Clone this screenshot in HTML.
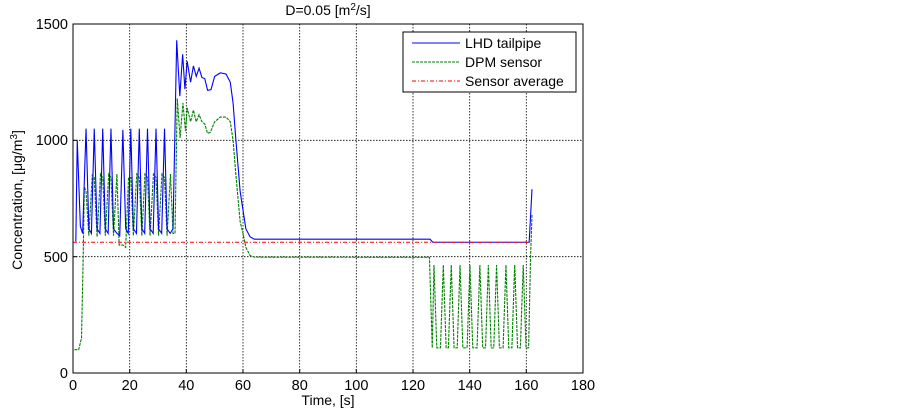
<!DOCTYPE html>
<html><head><meta charset="utf-8"><style>
body{margin:0;background:#fff;width:903px;height:410px;overflow:hidden}
svg{font-family:"Liberation Sans",Arial,sans-serif}
</style></head><body>
<svg width="903" height="410" xmlns="http://www.w3.org/2000/svg">
<rect width="903" height="410" fill="#fff"/>
<g stroke="#000" stroke-width="0.8" stroke-dasharray="1.5,1.5">
<line x1="129.7" y1="24" x2="129.7" y2="373"/>
<line x1="186.3" y1="24" x2="186.3" y2="373"/>
<line x1="243" y1="24" x2="243" y2="373"/>
<line x1="299.7" y1="24" x2="299.7" y2="373"/>
<line x1="356.3" y1="24" x2="356.3" y2="373"/>
<line x1="413" y1="24" x2="413" y2="373"/>
<line x1="469.7" y1="24" x2="469.7" y2="373"/>
<line x1="526.3" y1="24" x2="526.3" y2="373"/>
<line x1="73" y1="140.3" x2="583" y2="140.3"/>
<line x1="73" y1="256.7" x2="583" y2="256.7"/>
</g>
<g transform="translate(73,373) scale(2.8333,-0.23267)" fill="none">
<path vector-effect="non-scaling-stroke" stroke="#008000" stroke-width="1.1" stroke-dasharray="3,1" d="M0.5,100 L2,100 L3,150 L3.6,500 L4,800 L4.6,780 L5.6,590 L6.8,850 L7.5,840 L8.5,585 L9.7,855 L10.5,840 L11.4,590 L12.6,855 L13.4,840 L14.3,590 L15.5,855 L16.3,550 L17.6,550 L18.6,540 L19.6,840 L20.4,840 L21.3,590 L22.5,855 L23.4,840 L24.3,590 L25.4,855 L26.3,840 L27.2,590 L28.4,855 L29.3,840 L30.2,590 L31.4,855 L32.3,840 L33.2,590 L34.4,855 L35.3,600 L36,600 L36.8,1180 L37.8,1010 L38.8,1160 L39.7,1040 L40.3,1140 L41.5,1080 L42.5,1130 L43.5,1080 L44.5,1110 L45.5,1080 L46.5,1070 L47.5,1030 L48.5,1035 L50,1080 L52,1100 L54,1100 L55.5,1080 L56.5,1000 L57.5,850 L59,650 L60,600 L61,540 L62.5,505 L64,498 L125.8,497 L126.8,108 L127.4,464 L128.4,108 L129.7,108 L130.7,464 L131.7,108 L132.5,108 L133.5,464 L134.5,108 L135.6,108 L136.6,464 L137.6,108 L139.1,108 L140.1,464 L141.1,108 L142.6,108 L143.6,464 L144.6,108 L145.6,108 L146.6,464 L147.6,108 L148.5,108 L149.5,464 L150.5,108 L151.8,108 L152.8,464 L153.8,108 L154.9,108 L155.9,464 L156.9,108 L157.9,108 L158.9,464 L159.9,108 L160.8,108 L161.5,500 L162,680"/>
<path vector-effect="non-scaling-stroke" stroke="#0000ff" stroke-width="1.1" d="M1,565 L1.5,1000 L2.6,630 L3.4,600 L4.6,1050 L5.6,620 L6.5,600 L7.5,1050 L8.5,620 L9.5,600 L10.5,1050 L11.4,620 L12.4,600 L13.4,1050 L14.3,620 L15.5,600 L16.5,590 L17.6,1045 L18.6,620 L19.5,600 L20.4,1050 L21.3,620 L22.4,600 L23.4,1050 L24.3,620 L25.3,600 L26.3,1050 L27.2,620 L28.3,600 L29.3,1050 L30.2,620 L31.3,600 L32.3,1050 L33.2,620 L34.3,600 L35.3,620 L36.6,1430 L37.7,1190 L38.7,1370 L39.5,1220 L40.3,1340 L41.5,1250 L42.5,1320 L43.5,1275 L44.5,1310 L45.5,1270 L46.5,1265 L47.5,1215 L48.7,1218 L50,1275 L52,1290 L54,1285 L55.5,1250 L56.5,1160 L57.5,1000 L59,780 L60,700 L61,620 L62.5,585 L64,575 L126,575 L127,562 L161,562 L162,790"/>
<path vector-effect="non-scaling-stroke" stroke="#ff0000" stroke-width="1" stroke-dasharray="4,2,1,2" d="M0,562 L162,562"/>
</g>
<rect x="73" y="24" width="510" height="349" fill="none" stroke="#000" stroke-width="1"/>
<g stroke="#000" stroke-width="1">
<line x1="129.7" y1="373" x2="129.7" y2="369"/><line x1="186.3" y1="373" x2="186.3" y2="369"/><line x1="243" y1="373" x2="243" y2="369"/><line x1="299.7" y1="373" x2="299.7" y2="369"/><line x1="356.3" y1="373" x2="356.3" y2="369"/><line x1="413" y1="373" x2="413" y2="369"/><line x1="469.7" y1="373" x2="469.7" y2="369"/><line x1="526.3" y1="373" x2="526.3" y2="369"/>
<line x1="73" y1="140.3" x2="77" y2="140.3"/><line x1="73" y1="256.7" x2="77" y2="256.7"/>
</g>
<g font-size="14.5" fill="#000" text-anchor="middle">
<text x="73" y="390">0</text><text x="129.7" y="390">20</text><text x="186.3" y="390">40</text><text x="243" y="390">60</text><text x="299.7" y="390">80</text><text x="356.3" y="390">100</text><text x="413" y="390">120</text><text x="469.7" y="390">140</text><text x="526.3" y="390">160</text><text x="583" y="390">180</text>
</g>
<g font-size="14.5" fill="#000" text-anchor="end">
<text x="68" y="29">1500</text><text x="68" y="145">1000</text><text x="68" y="262">500</text><text x="68" y="378">0</text>
</g>
<text x="328" y="15" font-size="14" text-anchor="middle">D=0.05 [m<tspan dy="-5" font-size="10">2</tspan><tspan dy="5">/s]</tspan></text>
<text x="328" y="405" font-size="14" text-anchor="middle">Time, [s]</text>
<text transform="translate(22,200) rotate(-90)" font-size="14" text-anchor="middle">Concentration, [μg/m<tspan dy="-5" font-size="10">3</tspan><tspan dy="5">]</tspan></text>
<rect x="403" y="32" width="173" height="60" fill="#fff" stroke="#000" stroke-width="1"/>
<line x1="412" y1="43" x2="460" y2="43" stroke="#0000ff" stroke-width="1.1"/>
<line x1="412" y1="62" x2="460" y2="62" stroke="#008000" stroke-width="1.1" stroke-dasharray="3,1"/>
<line x1="412" y1="81" x2="460" y2="81" stroke="#ff0000" stroke-width="1" stroke-dasharray="4,2,1,2"/>
<g font-size="14" fill="#000"><text x="465" y="48">LHD tailpipe</text><text x="465" y="67">DPM sensor</text><text x="465" y="86">Sensor average</text></g>
</svg>
</body></html>
